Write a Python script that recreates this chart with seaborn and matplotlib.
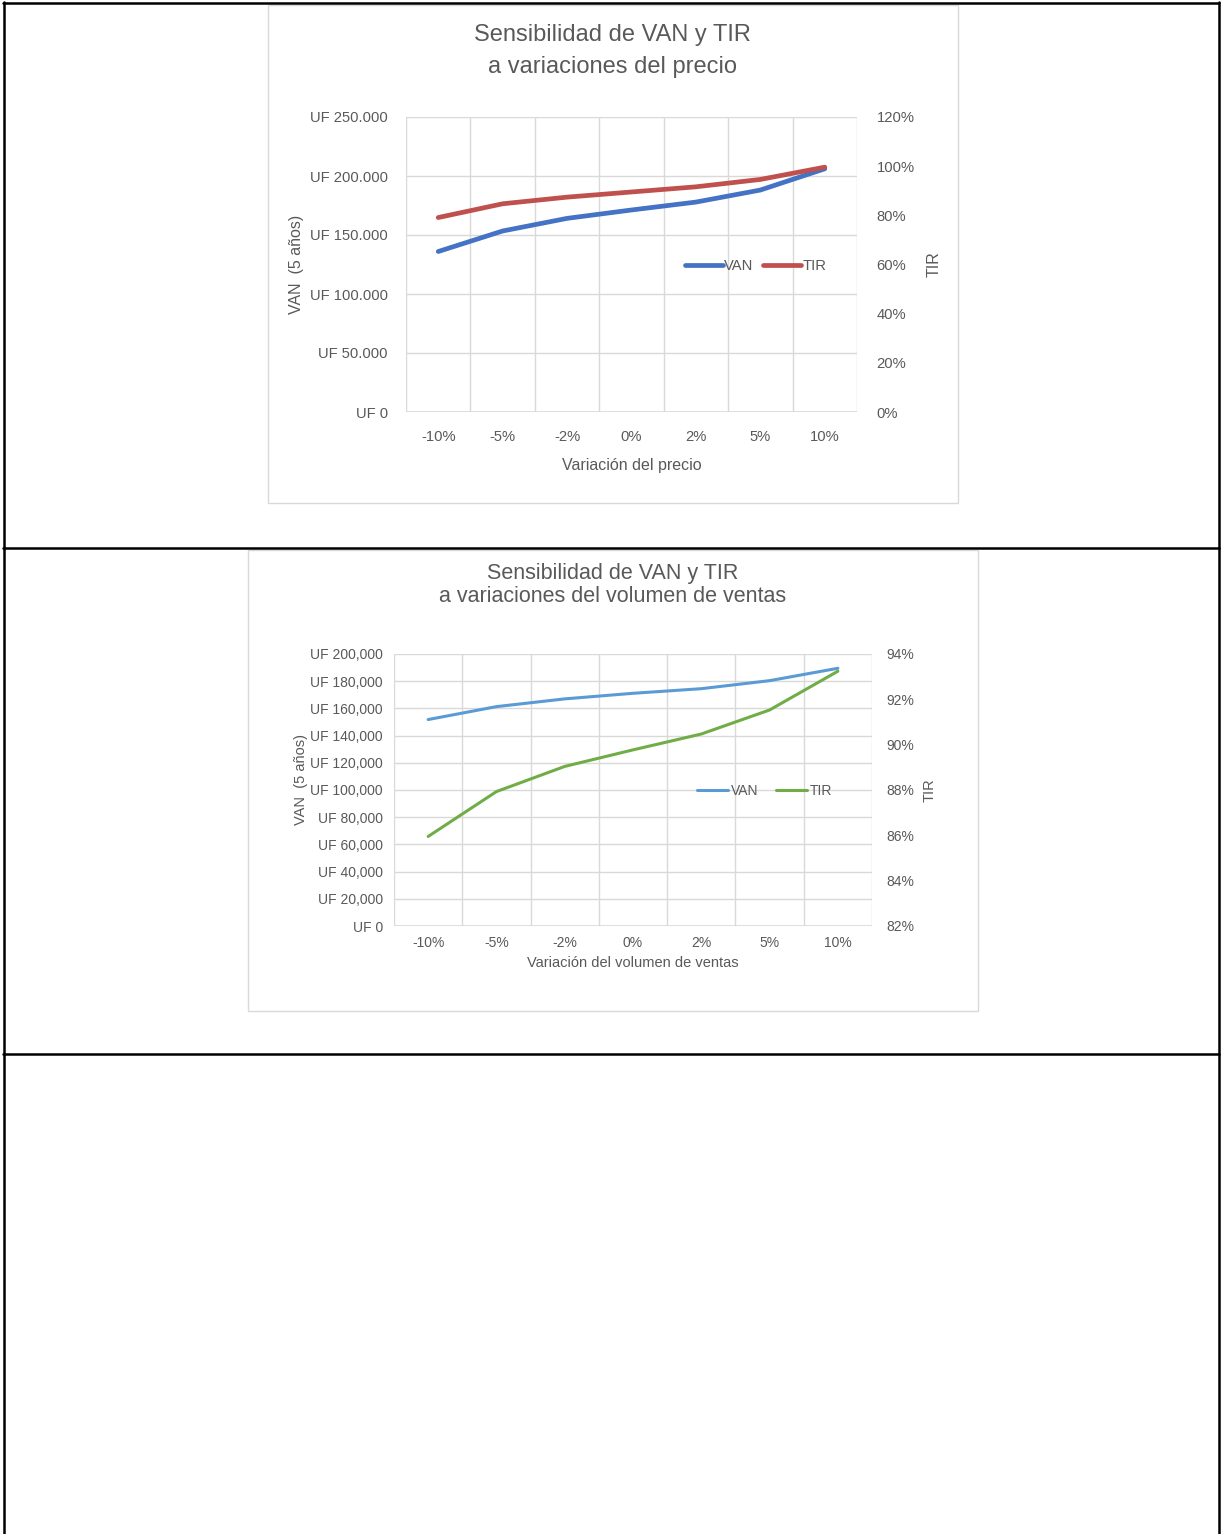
import numpy as np
import pandas as pd
import matplotlib
matplotlib.use("Agg")
import matplotlib.pyplot as plt
import seaborn as sns
from matplotlib.lines import Line2D
from matplotlib.patches import Rectangle
from matplotlib.ticker import FuncFormatter, FixedLocator

# ---------------- data ----------------
categories = ["-10%", "-5%", "-2%", "0%", "2%", "5%", "10%"]

precio_van = [136000, 153400, 164100, 171200, 177900, 188100, 206100]
precio_tir = [0.791, 0.847, 0.874, 0.895, 0.916, 0.946, 0.996]

volumen_van = [151800, 161300, 167000, 171100, 174500, 180400, 189500]
volumen_tir = [0.8595, 0.8793, 0.8904, 0.8977, 0.9047, 0.9153, 0.9324]

title1 = "Sensibilidad de VAN y TIR\na variaciones del precio"
title2 = "Sensibilidad de VAN y TIR\na variaciones del volumen de ventas"
xlabel1 = "Variación del precio"
xlabel2 = "Variación del volumen de ventas"
ylabel_left = "VAN  (5 años)"
ylabel_right = "TIR"

# ---------------- layout ----------------
W, H = 1222, 1534
sns.set_theme(style="white")
plt.rcParams["font.family"] = ["Liberation Sans", "DejaVu Sans"]
fig = plt.figure(figsize=(W / 100, H / 100), dpi=100)
fig.patch.set_facecolor("white")


def fx(x):
    return x / W


def fy(y):
    return 1 - y / H


def rect(x0, y0, x1, y1):
    return [fx(x0), fy(y1), fx(x1) - fx(x0), fy(y0) - fy(y1)]


# table borders
for (xa, ya, xb, yb) in [(3, 3, 1219, 3), (4, 2, 4, 1534), (1219, 2, 1219, 1534),
                         (3, 548, 1219, 548), (3, 1054, 1219, 1054)]:
    fig.add_artist(Line2D([fx(xa), fx(xb)], [fy(ya), fy(yb)], color="black",
                          lw=1.8, transform=fig.transFigure))

# chart boxes
for (x0, y0, x1, y1) in [(268, 5, 958, 503), (248, 550, 978, 1011)]:
    fig.add_artist(Rectangle((fx(x0), fy(y1)), fx(x1) - fx(x0), fy(y0) - fy(y1),
                             transform=fig.transFigure, facecolor="white",
                             edgecolor="#D9D9D9", lw=1.0, zorder=0))

GRID = "#D9D9D9"
TXT = "#595959"


def make_chart(plot_rect, van, tir, van_color, tir_color, lw, ymax, ystep,
               rmin, rmax, rstep, left_fmt, font, tsize, lsize, title, title_xy,
               title_size, xlabel, xlabel_y, ylab_xy, rlab_x, pads, legend_xy,
               title_ls, leg_kw):
    ax = fig.add_axes(plot_rect)
    ax.set_facecolor("none")
    x = np.arange(len(categories))
    df = pd.DataFrame({"x": x, "VAN": van, "TIR": tir})
    sns.lineplot(data=df, x="x", y="VAN", ax=ax, color=van_color, lw=lw,
                 label="VAN", legend=False)
    ax2 = ax.twinx()
    sns.lineplot(data=df, x="x", y="TIR", ax=ax2, color=tir_color, lw=lw,
                 label="TIR", legend=False)
    for a in (ax, ax2):
        for s in a.spines.values():
            s.set_visible(False)
    ax.set_xlim(-0.5, len(categories) - 0.5)
    ax.set_ylim(0, ymax)
    ax2.set_ylim(rmin, rmax)
    ax.set_yticks(np.arange(0, ymax + 1, ystep))
    ax.yaxis.set_major_formatter(FuncFormatter(left_fmt))
    ax2.set_yticks(np.arange(rmin, rmax + 1e-9, rstep))
    ax2.yaxis.set_major_formatter(FuncFormatter(lambda v, p: f"{v*100:.0f}%"))
    ax.set_xticks(x)
    ax.set_xticklabels(categories)
    ax.xaxis.set_minor_locator(FixedLocator(np.arange(-0.5, len(categories), 1.0)))
    ax.grid(False)
    ax2.grid(False)
    ax.grid(True, which="major", axis="y", color=GRID, lw=1.0)
    ax.grid(True, which="minor", axis="x", color=GRID, lw=1.0)
    ax.axhline(0, color=GRID, lw=1.2, zorder=1)
    xp, lp, rp = pads
    ax.tick_params(axis="x", which="both", length=0, pad=xp, labelsize=tsize,
                   labelcolor=TXT)
    ax.tick_params(axis="y", length=0, pad=lp, labelsize=tsize, labelcolor=TXT)
    ax2.tick_params(axis="y", length=0, pad=rp, labelsize=tsize, labelcolor=TXT)
    for lab in ax.get_xticklabels() + ax.get_yticklabels() + ax2.get_yticklabels():
        lab.set_family(font)
    ax.set_xlabel(xlabel, fontsize=lsize, color=TXT, family=font)
    ax.xaxis.set_label_coords(0.5, xlabel_y)
    ax.set_ylabel(ylabel_left, fontsize=lsize, color=TXT, family=font)
    ax.yaxis.set_label_coords(*ylab_xy)
    ax2.set_ylabel(ylabel_right, fontsize=lsize, color=TXT, family=font,
                   rotation=90)
    ax2.yaxis.set_label_coords(rlab_x, 0.5)
    h1, l1 = ax.get_legend_handles_labels()
    h2, l2 = ax2.get_legend_handles_labels()
    leg = ax2.legend(h1 + h2, l1 + l2, ncol=2, frameon=False, loc="center",
                     bbox_to_anchor=legend_xy,
                     prop={"family": font, "size": tsize}, **leg_kw)
    for t in leg.get_texts():
        t.set_color(TXT)
    fig.text(fx(title_xy[0]), fy(title_xy[1]), title, ha="center", va="center",
             fontsize=title_size, color=TXT, family=font, linespacing=title_ls)
    return ax, ax2


font = ["Liberation Sans", "DejaVu Sans"]

make_chart(rect(406, 117, 857, 412), precio_van, precio_tir,
           "#4472C4", "#C0504D", 3.4, 250000, 50000, 0.0, 1.2, 0.2,
           lambda v, p: "UF " + f"{v:,.0f}".replace(",", "."),
           font, 10.6, 11.5, title1, (612, 51), 17, xlabel1, -0.155,
           (-0.227, 0.5), 1.155, (13, 13, 14), (0.775, 0.495), 1.6,
           dict(handlelength=2.6, handletextpad=0.1, columnspacing=0.6))

make_chart(rect(394, 654, 872, 926), volumen_van, volumen_tir,
           "#5B9BD5", "#70AD47", 2.2, 200000, 20000, 0.82, 0.94, 0.02,
           lambda v, p: "UF " + f"{v:,.0f}",
           font, 10, 10.5, title2, (613, 585), 15.5, xlabel2, -0.11,
           (-0.18, 0.537), 1.105, (7, 8, 10), (0.775, 0.496), 1.12,
           dict(handlelength=2.2, handletextpad=0.2, columnspacing=1.3))

fig.savefig("out.png", dpi=100, facecolor="white")
